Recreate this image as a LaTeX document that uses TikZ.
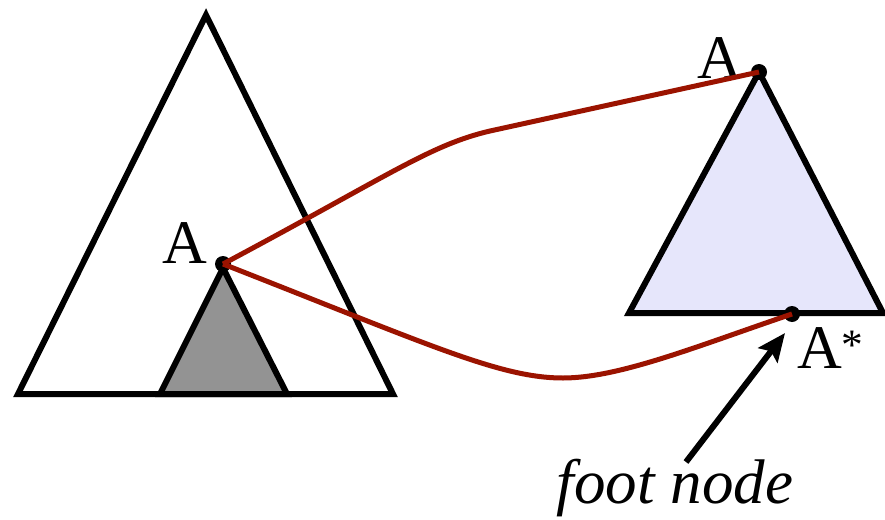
\documentclass[tikz,border=0pt]{standalone}
\usepackage{fontspec}
\setmainfont{Liberation Serif}
\usetikzlibrary{arrows.meta}
\definecolor{treered}{HTML}{9B1300}
\definecolor{lavender}{HTML}{E6E6FB}
\definecolor{subgray}{HTML}{939393}
\begin{document}
\begin{tikzpicture}[x=1pt,y=-1pt,
  tri/.style={draw=black,line width=6pt},
  dot/.style={circle,fill=black,inner sep=0pt,minimum size=16pt},
  lbl/.style={font=\fontsize{62}{66}\selectfont,inner sep=0pt},
  link/.style={draw=treered,line width=5pt}]
\useasboundingbox (0,0) rectangle (885,519);
\draw[tri] (206,15) -- (393,394) -- (18,394) -- cycle;
\draw[tri,fill=subgray] (223,268) -- (287,394) -- (160,394) -- cycle;
\draw[tri,fill=lavender] (759,72) -- (883,313) -- (629,313) -- cycle;
\node[dot] (aleft) at (223,264) {};
\node[dot] (atop) at (759,72) {};
\node[dot] (afoot) at (792,314) {};
\node[lbl] (lblleft) at (185,243) {A};
\node[lbl] (lbltop) at (720,58) {A};
\node[lbl,anchor=west] (lblfoot) at (797,348) {A\textsuperscript{*}};
\node[lbl,font=\fontsize{63}{66}\selectfont\itshape] (footlbl) at (675,488) {foot node};
\path[link] (aleft.center) .. controls (390,175) and (430,145) .. (490,131) -- (atop.center);
\path[link] (aleft.center) .. controls (430,345) and (500,378) .. (563,378) .. controls (620,378) and (700,345) .. (afoot.center);
\coordinate (arrowtail) at (686,462);
\coordinate (arrowtip) at (785,333);
\draw[line width=6pt,-{Stealth[length=28pt,width=24pt,inset=5pt]}] (arrowtail) -- (arrowtip);
\end{tikzpicture}
\end{document}
